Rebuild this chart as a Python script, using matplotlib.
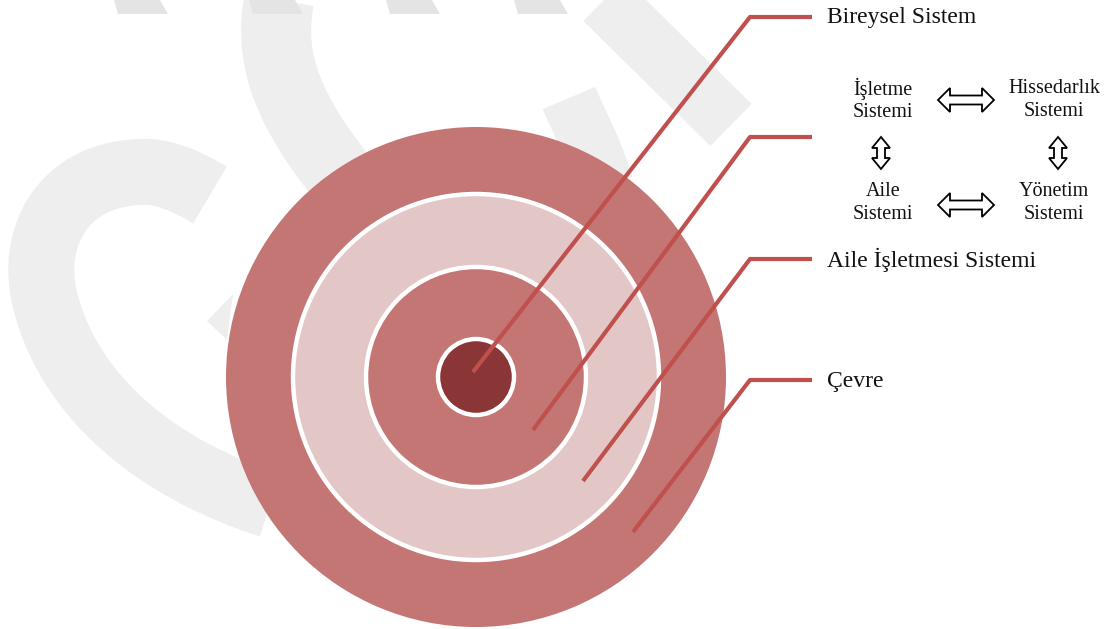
import matplotlib
matplotlib.use("Agg")
import matplotlib.pyplot as plt
import numpy as np
from matplotlib.patches import Circle, Polygon, PathPatch
from matplotlib.path import Path

plt.rcParams["font.family"] = ["Liberation Serif", "DejaVu Serif"]

# ── 図の内容 ────────────────────────────────────────────────
ring_radius = [250, 183, 110, 38]
ring_color = ["#C47674", "#E3C7C7", "#C47674", "#8B3636"]
center = (476, 377)

label_text = ["Bireysel Sistem", "", "Aile İşletmesi Sistemi", "Çevre"]
label_y = [17, 137, 259, 380]
leader_start = [(473, 372), (533, 430), (583, 481), (633, 532)]

sub_systems = ["İşletme\nSistemi", "Hissedarlık\nSistemi",
               "Aile\nSistemi", "Yönetim\nSistemi"]
sub_pos = [(883, 100), (1054, 100), (883, 203), (1054, 203)]

# 両矢印: (中心x, 中心y, 長さ, 向き)
double_arrows = [(966, 100, 56, "h"), (966, 205, 56, "h"),
                 (881, 153, 32, "v"), (1058, 153, 32, "v")]

fig = plt.figure(figsize=(11.11, 6.29), dpi=100)
ax = fig.add_axes([0, 0, 1, 1])
ax.set_xlim(0, 1111)
ax.set_ylim(629, 0)
ax.axis("off")

# ── 背景の透かし（薄いグレー）────────────────────────────────
wm = "#EEEEEE"
M, C4 = Path.MOVETO, Path.CURVE4
wm_curves = [
    ([(210, 195), (185, 180), (160, 170), (140, 172),
      (60, 175), (30, 240), (45, 300),
      (70, 400), (160, 470), (270, 505)],
     [M, C4, C4, C4, C4, C4, C4, C4, C4, C4], 66),
    ([(279, 0), (270, 50), (280, 100), (340, 175)],
     [M, C4, C4, C4], 70),
    ([(569, 98), (580, 125), (595, 150), (605, 185)],
     [M, C4, C4, C4], 57),
]
for verts, codes, w in wm_curves:
    ax.add_patch(PathPatch(Path(verts, codes), facecolor="none",
                           edgecolor=wm, lw=w * 0.72, capstyle="butt",
                           zorder=0))
ax.plot([604, 731], [0, 125], color=wm, lw=59 * 0.72,
        solid_capstyle="butt", zorder=0)
ax.add_patch(Polygon([(207, 321), (227, 340), (233, 294)],
                     facecolor=wm, edgecolor="none", zorder=0))
for x0 in [118, 253, 390, 518]:
    ax.add_patch(Polygon([(x0, 14), (x0 + 50, 14), (x0 + 42, 0), (x0 - 4, 0)],
                         facecolor="#E4E4E4", edgecolor="none", zorder=0))

# ── 同心円 ───────────────────────────────────────────────
for i, (r, c) in enumerate(zip(ring_radius, ring_color)):
    ec = "none" if i == 0 else "white"
    ax.add_patch(Circle(center, r, facecolor=c, edgecolor=ec,
                        lw=3.2, zorder=2 + i))

# ── 引出線とラベル ─────────────────────────────────────────
line_c = "#C0504D"
for (sx, sy), ly, txt in zip(leader_start, label_y, label_text):
    ax.plot([sx, 750, 812], [sy, ly, ly], color=line_c, lw=3.0,
            solid_capstyle="butt", zorder=10)
    if txt:
        ax.text(827, ly + 1, txt, fontsize=17, va="center", ha="left",
                color="#111111", zorder=11)

# ── サブシステムと両矢印 ─────────────────────────────────────
for txt, (x, y) in zip(sub_systems, sub_pos):
    ax.text(x, y, txt, fontsize=14.5, ha="center", va="center",
            linespacing=1.25, color="#111111", zorder=11)


def double_arrow(cx, cy, length, orient):
    if orient == "h":
        head_w, head_l, shaft_w = 24, 12, 9
    else:
        head_w, head_l, shaft_w = 18, 11, 8
    h = length / 2
    pts = np.array([
        (-h, 0), (-h + head_l, head_w / 2), (-h + head_l, shaft_w / 2),
        (h - head_l, shaft_w / 2), (h - head_l, head_w / 2), (h, 0),
        (h - head_l, -head_w / 2), (h - head_l, -shaft_w / 2),
        (-h + head_l, -shaft_w / 2), (-h + head_l, -head_w / 2),
    ])
    if orient == "v":
        pts = pts[:, ::-1]
    pts = pts + [cx, cy]
    ax.add_patch(Polygon(pts, closed=True, facecolor="white",
                         edgecolor="black", lw=1.3, zorder=11))


for cx, cy, length, orient in double_arrows:
    double_arrow(cx, cy, length, orient)

fig.savefig("out.png", dpi=100)
